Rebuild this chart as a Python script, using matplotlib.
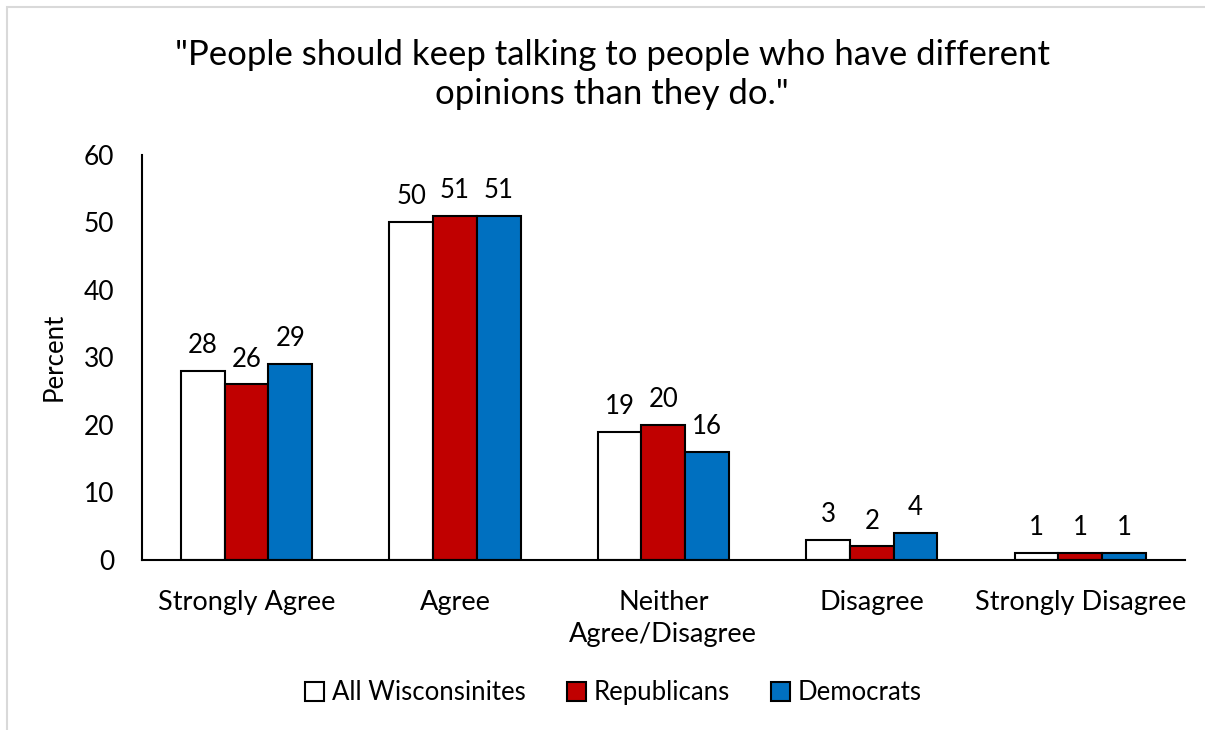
import matplotlib.pyplot as plt
from matplotlib.patches import Rectangle
import numpy as np

plt.rcParams['font.family'] = ['Lato', 'DejaVu Sans']

# Data
categories = ["Strongly Agree", "Agree", "Neither\nAgree/Disagree", "Disagree", "Strongly Disagree"]
series_names = ["All Wisconsinites", "Republicans", "Democrats"]
all_wi = [28, 50, 19, 3, 1]
republicans = [26, 51, 20, 2, 1]
democrats = [29, 51, 16, 4, 1]
colors = ["#FFFFFF", "#C00000", "#0070C0"]

fig = plt.figure(figsize=(12.05, 7.3), dpi=100)
ax = fig.add_axes([0.118, 0.233, 0.865, 0.555])

# light border (top/left visible as in the screenshot)
fig.patches.append(Rectangle((7 / 1205, -0.05), 1.2, 1 - 7 / 730 + 0.05,
                             transform=fig.transFigure, fill=False,
                             edgecolor="#D9D9D9", linewidth=1.5))

x = np.arange(len(categories))
w = 0.21
for i, (vals, name) in enumerate(zip([all_wi, republicans, democrats], series_names)):
    bars = ax.bar(x + (i - 1) * w, vals, w, color=colors[i], edgecolor="black",
                  linewidth=1.5, label=name)
    for b, v in zip(bars, vals):
        ax.text(b.get_x() + b.get_width() / 2, v + 1.9, str(v), ha="center",
                va="bottom", fontsize=18.5)

ax.set_xlim(-0.5, len(categories) - 0.5)
ax.set_ylim(0, 60)
ax.set_yticks(range(0, 61, 10))
ax.set_xticks(x)
ax.set_xticklabels(categories, fontsize=19.5, linespacing=1.35)
ax.tick_params(axis="y", labelsize=19, length=0, pad=20)
ax.tick_params(axis="x", length=0, pad=22)
for s in ["top", "right"]:
    ax.spines[s].set_visible(False)
ax.spines["left"].set_linewidth(1.5)
ax.spines["bottom"].set_linewidth(1.5)
ax.set_ylabel("Percent", fontsize=18.5, labelpad=12)

fig.text(0.508, 0.898, '"People should keep talking to people who have different\nopinions than they do."',
         ha="center", va="center", fontsize=25, linespacing=1.25)

leg = fig.legend(loc="center", bbox_to_anchor=(0.509, 0.051), ncol=3, frameon=False,
                 fontsize=18.5, handlelength=0.75, handleheight=0.75, handletextpad=0.3,
                 columnspacing=1.6)
for h in leg.legend_handles:
    h.set_linewidth(1.5)

fig.savefig("out.png", dpi=100)
